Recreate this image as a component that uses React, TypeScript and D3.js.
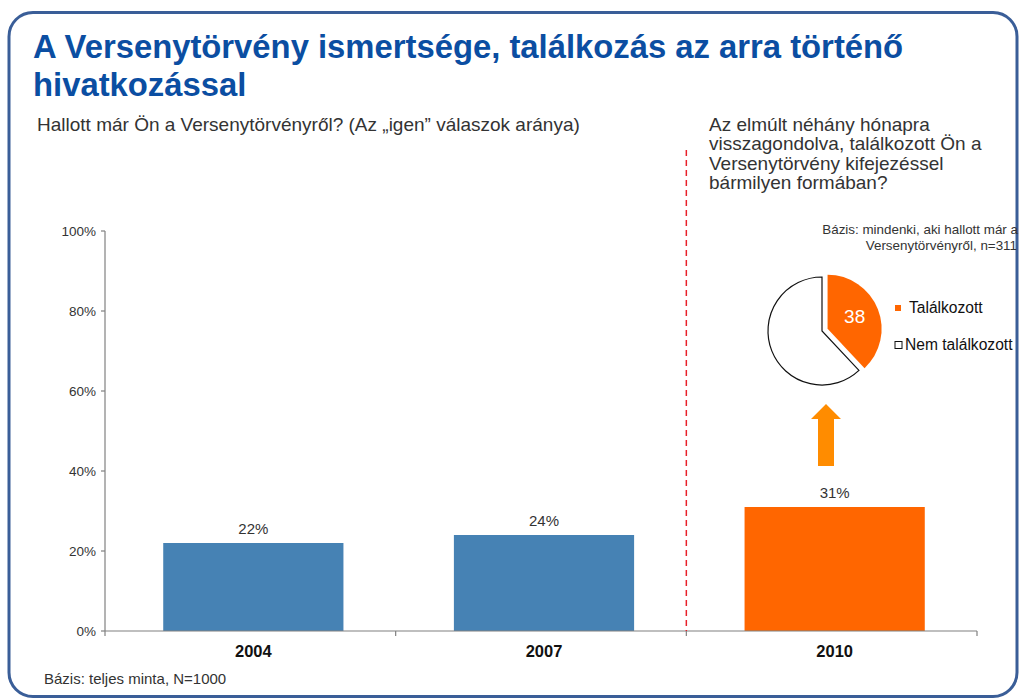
import React from 'react';
import * as d3 from 'd3';

const years = ['2004', '2007', '2010'];
const heardOf = [22, 24, 31];
const barColors = ['#4682B4', '#4682B4', '#FF6600'];
const yTicks = [0, 20, 40, 60, 80, 100];
const pieLabels = ['Találkozott', 'Nem találkozott'];
const pieValues = [38, 62];
const pieColors = ['#FF6600', '#FFFFFF'];
const question = ['Az elmúlt néhány hónapra', 'visszagondolva, találkozott Ön a', 'Versenytörvény kifejezéssel', 'bármilyen formában?'];

const FONT = '"Liberation Sans", Arial, sans-serif';
const TXT = '#333';

export default function App() {
  const width = 1020;
  const height = 699;

  const x = d3.scaleBand<string>().domain(years).range([105, 977]).padding(0);
  const y = d3.scaleLinear().domain([0, 100]).range([631, 231]);
  const bw = x.bandwidth();
  const barW = bw * 0.62;

  const pie = d3.pie<number>().sort(null)(pieValues);
  const arc = d3.arc<d3.PieArcDatum<number>>().innerRadius(0).outerRadius(54);
  const pieCx = 822;
  const pieCy = 331;
  const explode = 6;

  const boundaries = [...years.map(d => x(d) as number), 977];

  return (
    <div style={{ position: 'absolute', left: 0, top: 0 }}>
      <svg width={width} height={height} style={{ display: 'block', fontFamily: FONT }}>
        <rect x={0} y={0} width={width} height={height} fill="#fff" />
        {/* frame */}
        <rect x={9} y={12.5} width={1008} height={684} rx={24} ry={24} fill="none" stroke="#3A5E98" strokeWidth={3} />

        {/* title */}
        <text x={33} y={58} fontSize={32.8} fontWeight="bold" fill="#0B4EA2">A Versenytörvény ismertsége, találkozás az arra történő</text>
        <text x={33} y={96} fontSize={32.8} fontWeight="bold" fill="#0B4EA2">hivatkozással</text>

        <text x={37} y={131} fontSize={19} fill={TXT}>Hallott már Ön a Versenytörvényről? (Az „igen” válaszok aránya)</text>

        {question.map((t, i) => (
          <text key={t} x={709} y={131 + i * 19.3} fontSize={19} fill={TXT}>{t}</text>
        ))}

        {/* y axis */}
        <line x1={105} x2={105} y1={y(100)} y2={y(0)} stroke="#808080" strokeWidth={1.2} />
        {yTicks.map(t => (
          <g key={t}>
            <line x1={101} x2={105} y1={y(t)} y2={y(t)} stroke="#808080" strokeWidth={1.2} />
            <text x={96} y={y(t) + 5} fontSize={13.5} textAnchor="end" fill={TXT}>{t}%</text>
          </g>
        ))}

        {/* bars */}
        {years.map((yr, i) => (
          <g key={yr}>
            <rect x={(x(yr) as number) + (bw - barW) / 2 + 3} y={y(heardOf[i])} width={barW} height={y(0) - y(heardOf[i])} fill={barColors[i]} />
            <text x={(x(yr) as number) + bw / 2 + 3} y={y(heardOf[i]) - 9} fontSize={15} textAnchor="middle" fill={TXT}>{heardOf[i]}%</text>
            <text x={(x(yr) as number) + bw / 2 + 3} y={657} fontSize={16.5} fontWeight="bold" textAnchor="middle" fill="#111">{yr}</text>
          </g>
        ))}

        {/* x axis */}
        <line x1={105} x2={977} y1={y(0)} y2={y(0)} stroke="#808080" strokeWidth={1.2} />
        {boundaries.map(b => (
          <line key={b} x1={b} x2={b} y1={y(0)} y2={y(0) + 5} stroke="#808080" strokeWidth={1.2} />
        ))}

        {/* separator */}
        <line x1={boundaries[2]} x2={boundaries[2]} y1={150} y2={y(0)} stroke="#E8202A" strokeWidth={1.5} strokeDasharray="6,4" />

        <text x={44} y={684} fontSize={15} fill={TXT}>Bázis: teljes minta, N=1000</text>

        {/* pie */}
        <text x={1018} y={234} fontSize={13.4} textAnchor="end" fill={TXT}>Bázis: mindenki, aki hallott már a</text>
        <text x={1017} y={250} fontSize={13.4} textAnchor="end" fill={TXT}>Versenytörvényről, n=311</text>
        {pie.map((p, i) => {
          const mid = (p.startAngle + p.endAngle) / 2;
          const off = i === 0 ? explode : 0;
          const dx = Math.sin(mid) * off;
          const dy = -Math.cos(mid) * off;
          return (
            <g key={i} transform={`translate(${pieCx + dx},${pieCy + dy})`}>
              <path d={arc(p) as string} fill={pieColors[i]} stroke={i === 0 ? 'none' : '#111'} strokeWidth={1.2} />
              {i === 0 && (
                <text x={arc.centroid(p)[0] + 2} y={arc.centroid(p)[1] + 4} fontSize={19} textAnchor="middle" fill="#fff">{pieValues[i]}</text>
              )}
            </g>
          );
        })}

        {/* legend */}
        {pieLabels.map((l, i) => (
          <g key={l} transform={`translate(895,${305 + i * 36.5})`}>
            <rect x={0} y={0} width={i === 0 ? 6 : 7} height={i === 0 ? 6 : 7} fill={pieColors[i]} stroke={i === 0 ? 'none' : '#111'} strokeWidth={1} />
            <text x={i === 0 ? 14 : 10} y={8} fontSize={15.6} fill="#111">{l}</text>
          </g>
        ))}

        {/* arrow */}
        <path d="M818,466 L834,466 L834,419 L841,419 L826,404 L811,419 L818,419 Z" fill="#FF8C00" />
      </svg>
    </div>
  );
}
